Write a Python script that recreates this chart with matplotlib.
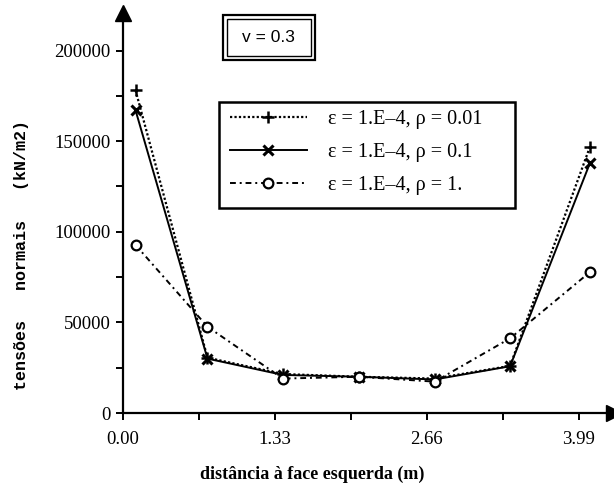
import matplotlib
matplotlib.use('Agg')
import matplotlib.pyplot as plt
from matplotlib.patches import Rectangle
from matplotlib.ticker import MultipleLocator

# distance from left face (m)
x_pos = [0.11, 0.74, 1.40, 2.065, 2.73, 3.39, 4.09]

# normal stresses (kN/m2)
rho_001 = [178000, 30500, 21500, 20000, 19000, 26000, 147000]
rho_01 = [167000, 30000, 21000, 20000, 18500, 25800, 138000]
rho_1 = [92700, 47600, 19000, 20000, 17300, 41200, 77800]

xticks = [0.00, 1.33, 2.66, 3.99]
xtick_labels = ['0.00', '1.33', '2.66', '3.99']
yticks = [0, 50000, 100000, 150000, 200000]

labels = ['ε = 1.E–4, ρ = 0.01', 'ε = 1.E–4, ρ = 0.1', 'ε = 1.E–4, ρ = 1.']

W, H = 614, 486
fig = plt.figure(figsize=(W / 100, H / 100), dpi=100)
ax = fig.add_axes([123 / W, 73 / H, 491 / W, 400 / H])

ax.plot(x_pos, rho_001, color='black', linestyle=(0, (1, 1)), linewidth=1.6,
        marker='+', markersize=9, markeredgewidth=1.8, label=labels[0], clip_on=False)
ax.plot(x_pos, rho_01, color='black', linestyle='-', linewidth=1.4,
        marker='x', markersize=7, markeredgewidth=2.2, label=labels[1], clip_on=False)
ax.plot(x_pos, rho_1, color='black', linestyle=(0, (3, 2, 1, 2)), linewidth=1.4,
        marker='o', markersize=7, markerfacecolor='white', markeredgewidth=1.6,
        label=labels[2], clip_on=False)

ax.set_xlim(0, 4.30)
ax.set_ylim(0, 220700)

for s in ['top', 'right']:
    ax.spines[s].set_visible(False)
for s in ['left', 'bottom']:
    ax.spines[s].set_linewidth(1.6)

ax.plot(1, 0, marker='>', color='black', markersize=11, transform=ax.transAxes, clip_on=False)
ax.plot(0, 1, marker='^', color='black', markersize=11, transform=ax.transAxes, clip_on=False)

ax.set_xticks(xticks)
ax.set_xticklabels(xtick_labels, family='Liberation Serif', fontsize=13.5)
ax.set_yticks(yticks)
ax.set_yticklabels([str(v) for v in yticks], family='Liberation Serif', fontsize=13.5)
ax.xaxis.set_minor_locator(MultipleLocator(0.665))
ax.yaxis.set_minor_locator(MultipleLocator(25000))
ax.tick_params(which='both', direction='out', length=5, width=1.4)
ax.tick_params(axis='x', pad=8)
ax.tick_params(axis='y', pad=4)

fig.text(312 / W, 1 - 474 / H, 'distância à face esquerda (m)', family='Liberation Serif',
         fontweight='bold', fontsize=13, ha='center', va='center')
fig.text(22 / W, 1 - 255 / H, 'tensões   normais   (kN/m2)', family='Liberation Mono',
         fontweight='bold', fontsize=12, rotation=90, ha='center', va='center')

leg = ax.legend(loc='upper left', bbox_to_anchor=(230 / W, 1 - 110 / H),
                bbox_transform=fig.transFigure, borderaxespad=0, borderpad=0,
                frameon=False, handlelength=3.8, handletextpad=1.05,
                labelspacing=0.7, prop={'family': 'Liberation Serif', 'size': 14.5})
fig.patches.append(Rectangle((219 / W, 1 - 208 / H), 296 / W, 106 / H, transform=fig.transFigure,
                             fill=False, edgecolor='black', linewidth=1.8))

# double-framed nu box
fig.patches.append(Rectangle((223 / W, 1 - 60 / H), 92 / W, 45 / H, transform=fig.transFigure,
                             fill=False, edgecolor='black', linewidth=1.6))
fig.patches.append(Rectangle((227 / W, 1 - 56 / H), 84 / W, 37 / H, transform=fig.transFigure,
                             fill=False, edgecolor='black', linewidth=1.0))
fig.text(268 / W, 1 - 37 / H, 'v = 0.3', family='Liberation Sans', fontsize=12.5,
         ha='center', va='center')

fig.savefig('out.png', dpi=100)
